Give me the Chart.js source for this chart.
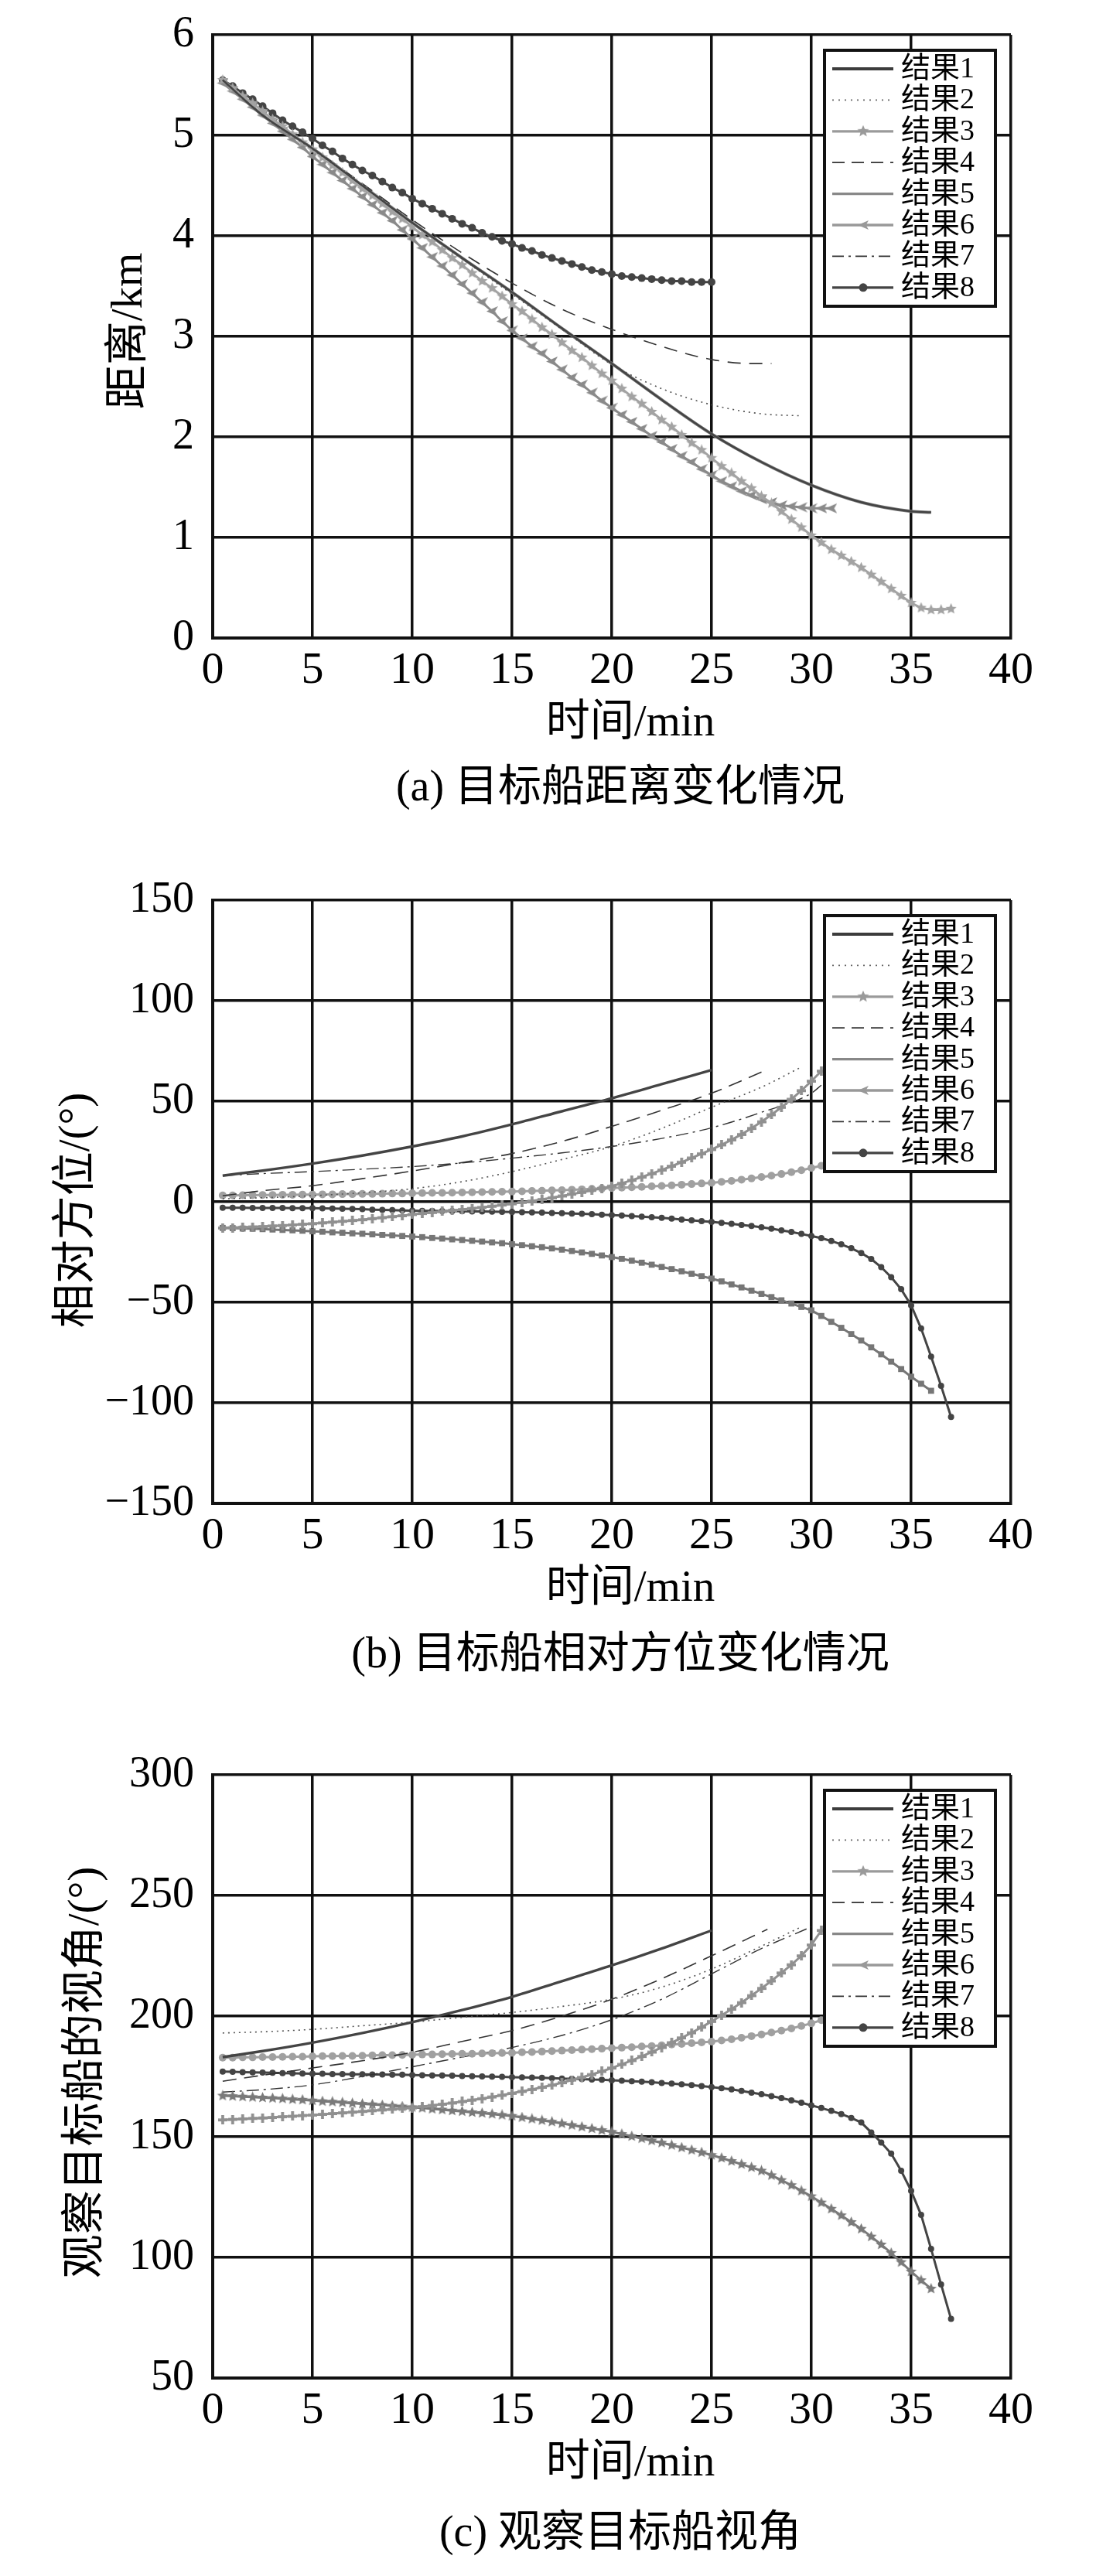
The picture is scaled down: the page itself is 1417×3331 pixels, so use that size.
<!DOCTYPE html>
<html>
<head>
<meta charset="utf-8">
<title>目标船距离、相对方位与视角变化</title>
<script src="https://cdn.jsdelivr.net/npm/chart.js@4"></script>
<style>
  body { margin: 0; background: #fff; }
  canvas { position: absolute; left: 0; }
</style>
</head>
<body>
<canvas id="chartA" width="1417" height="1081" style="top:0px"></canvas>
<canvas id="chartB" width="1417" height="1081" style="top:1119px"></canvas>
<canvas id="chartC" width="1417" height="1081" style="top:2250px"></canvas>

<script>
  // ---- time points (min) ----
  // marker series are sampled every 0.5 min
  const T_HALF = [0.5,1,1.5,2,2.5,3,3.5,4,4.5,5,5.5,6,6.5,7,7.5,8,8.5,9,9.5,10,
    10.5,11,11.5,12,12.5,13,13.5,14,14.5,15,15.5,16,16.5,17,17.5,18,18.5,19,19.5,20,
    20.5,21,21.5,22,22.5,23,23.5,24,24.5,25,25.5,26,26.5,27,27.5,28,28.5,29,29.5,30,
    30.5,31,31.5,32,32.5,33,33.5,34,34.5,35,35.5,36,36.5,37];
  // plain line series, read every 2.5 min
  const T_LINE = [0.5,2.5,5,7.5,10,12.5,15,17.5,20,22.5,25];
  const T_A1 = T_LINE.concat([27.5,30,32.5,35,36]);
  const T_A4 = T_LINE.concat([27,28]);
  const T_295 = T_LINE.concat([27.5,29.5]);
  const T_B4 = T_LINE.concat([27.5]);
  const T_B7 = T_LINE.concat([27.5,30,30.5]);
  const T_C4 = T_LINE.concat([27.8]);
  const T_C7 = T_LINE.concat([27.5,30]);

  // ---- (a) distance, km ----
  const A1_DIST = [5.55,5.2,4.87,4.5,4.13,3.78,3.44,3.08,2.73,2.37,2.03,1.75,1.52,1.35,1.26,1.25];
  const A2_DIST = [5.55,5.2,4.86,4.5,4.13,3.77,3.42,3.07,2.72,2.48,2.32,2.23,2.21];
  const A4_DIST = [5.55,5.2,4.87,4.52,4.16,3.83,3.53,3.27,3.07,2.9,2.77,2.73,2.73];
  const A3_DIST = [5.55,5.47,5.39,5.32,5.24,5.16,5.09,5.01,4.93,4.86,
    4.78,4.70,4.63,4.55,4.47,4.40,4.32,4.24,4.17,4.09,
    4.01,3.94,3.86,3.78,3.71,3.63,3.55,3.48,3.40,3.32,
    3.25,3.17,3.09,3.02,2.94,2.86,2.79,2.71,2.63,2.56,
    2.48,2.40,2.33,2.25,2.17,2.10,2.02,1.94,1.87,1.79,
    1.71,1.64,1.56,1.49,1.41,1.34,1.26,1.18,1.10,1.02,
    0.95,0.88,0.82,0.76,0.70,0.63,0.56,0.49,0.42,0.35,
    0.30,0.28,0.28,0.29];
  const A6_DIST = [5.52,5.44,5.36,5.28,5.20,5.12,5.04,4.96,4.88,4.79,
    4.71,4.63,4.55,4.47,4.39,4.31,4.23,4.15,4.06,3.97,
    3.88,3.79,3.70,3.61,3.52,3.43,3.34,3.25,3.15,3.06,
    2.98,2.90,2.83,2.75,2.67,2.59,2.52,2.44,2.36,2.29,
    2.22,2.15,2.08,2.01,1.95,1.88,1.81,1.75,1.68,1.62,
    1.56,1.51,1.46,1.42,1.38,1.35,1.32,1.31,1.30,1.29,
    1.29,1.29];
  const A8_DIST = [5.55,5.49,5.42,5.36,5.29,5.22,5.15,5.09,5.03,4.97,
    4.90,4.84,4.77,4.71,4.65,4.60,4.54,4.48,4.43,4.37,
    4.32,4.27,4.22,4.17,4.12,4.08,4.03,3.99,3.95,3.92,
    3.88,3.85,3.81,3.78,3.75,3.72,3.69,3.66,3.64,3.62,
    3.60,3.59,3.58,3.57,3.56,3.55,3.55,3.54,3.54,3.54];

  // ---- (b) relative bearing, deg ----
  const B1_BRG = [13,15.5,19,23,27.5,32.5,38.5,45,51.5,58.5,65.5];
  const B2_BRG = [1.5,2,3,4.5,6.5,10,15,21,27.5,36.5,47,57,67];
  const B4_BRG = [3,5.5,8,11.5,15.3,19.5,24,30,37.5,45.5,54,64.5];
  const B7_BRG = [13,14,15,16.2,17.5,19.3,21.7,24.3,27.5,31.5,36.8,44.5,54,58];
  const B3_BRG = [-13.0,-12.9,-12.7,-12.5,-12.3,-12.0,-11.8,-11.5,-11.2,-10.9,
    -10.5,-10.1,-9.7,-9.3,-8.9,-8.4,-7.9,-7.4,-6.9,-6.3,
    -5.8,-5.3,-4.8,-4.3,-3.8,-3.3,-2.8,-2.2,-1.6,-1.0,
    -0.3,0.4,1.2,2.0,2.9,3.8,4.7,5.7,6.7,7.8,
    9.2,10.7,12.3,14.0,15.8,17.7,19.7,21.8,23.9,26.0,
    28.3,30.8,33.5,36.5,39.8,43.3,47.0,51.0,55.3,60.0,
    65.0];
  const B6_BRG = [3.2,3.2,3.3,3.3,3.4,3.4,3.5,3.5,3.6,3.6,
    3.7,3.7,3.8,3.8,3.9,3.9,4.0,4.1,4.1,4.2,
    4.3,4.4,4.4,4.5,4.6,4.7,4.8,4.9,5.0,5.1,
    5.2,5.4,5.5,5.7,5.8,6.0,6.2,6.4,6.6,6.8,
    7.0,7.2,7.4,7.7,7.9,8.2,8.5,8.8,9.1,9.4,
    9.9,10.4,11.0,11.6,12.3,13.0,13.8,14.7,15.7,16.8,
    17.9,19.1];
  const B5_BRG = [-13.0,-13.1,-13.3,-13.4,-13.6,-13.8,-14.0,-14.2,-14.4,-14.7,
    -14.9,-15.2,-15.4,-15.7,-15.9,-16.2,-16.5,-16.7,-17.0,-17.3,
    -17.6,-18.0,-18.3,-18.7,-19.0,-19.4,-19.8,-20.2,-20.6,-21.1,
    -21.6,-22.1,-22.6,-23.2,-23.8,-24.5,-25.2,-25.9,-26.7,-27.5,
    -28.4,-29.3,-30.3,-31.3,-32.4,-33.5,-34.6,-35.8,-37.0,-38.2,
    -39.6,-41.1,-42.6,-44.2,-45.8,-47.4,-49.0,-50.6,-52.3,-54.0,
    -56.8,-59.7,-62.7,-65.8,-69.0,-72.4,-75.9,-79.5,-83.2,-87.0,
    -90.5,-94.0];
  const B8_BRG = [-3.0,-3.0,-3.0,-3.1,-3.1,-3.1,-3.1,-3.2,-3.2,-3.2,
    -3.3,-3.4,-3.5,-3.6,-3.7,-3.9,-4.0,-4.1,-4.3,-4.4,
    -4.5,-4.5,-4.6,-4.6,-4.7,-4.8,-4.8,-4.9,-5.0,-5.1,
    -5.2,-5.3,-5.4,-5.6,-5.7,-5.9,-6.0,-6.2,-6.4,-6.6,
    -6.8,-7.1,-7.4,-7.7,-8.0,-8.4,-8.8,-9.2,-9.6,-10.0,
    -10.5,-11.0,-11.5,-12.0,-12.7,-13.4,-14.2,-15.0,-16.0,-17.0,
    -18.1,-19.5,-21.2,-23.1,-25.5,-28.5,-32.5,-37.5,-43.5,-51.5,
    -63.0,-77.0,-91.5,-107.0];

  // ---- (c) view angle of target ship, deg ----
  const C1_VIEW = [183,185.5,189,193,197.5,202.5,208,214.5,221,228,235.5];
  const C2_VIEW = [193,193.5,194.5,196,197.5,199.5,201.5,204,207,212,219.5,229,237];
  const C4_VIEW = [173,175.5,178.5,181.5,185,189.5,194,200,207,215.5,225,236];
  const C7_VIEW = [168.5,169.5,171.5,175,179,183,187,192,198.5,207,217.5,228,237];
  const C3_VIEW = [157.0,157.2,157.4,157.6,157.8,158.0,158.3,158.5,158.8,159.0,
    159.3,159.6,159.9,160.2,160.5,160.8,161.1,161.4,161.7,162.0,
    162.5,163.0,163.5,164.0,164.6,165.2,165.8,166.5,167.2,168.0,
    168.8,169.6,170.5,171.4,172.4,173.5,174.6,175.8,177.1,178.5,
    180.0,181.6,183.3,185.1,187.0,189.0,191.0,193.1,195.4,197.8,
    200.3,202.9,205.6,208.5,211.5,214.6,217.9,221.3,225.0,229.5,
    235.5];
  const C6_VIEW = [182.8,182.8,182.9,182.9,183.0,183.0,183.1,183.2,183.2,183.3,
    183.4,183.4,183.5,183.5,183.6,183.7,183.8,183.8,183.9,184.0,
    184.1,184.1,184.2,184.3,184.4,184.4,184.5,184.6,184.7,184.8,
    185.0,185.1,185.3,185.5,185.7,185.9,186.1,186.3,186.5,186.7,
    186.9,187.1,187.4,187.6,187.9,188.2,188.5,188.8,189.1,189.4,
    189.9,190.4,191.0,191.7,192.4,193.2,194.0,194.9,195.9,197.0,
    198.3,199.7];
  const C5_VIEW = [167.0,166.8,166.6,166.4,166.2,166.0,165.8,165.5,165.3,165.0,
    164.7,164.5,164.2,163.9,163.6,163.4,163.1,162.8,162.5,162.2,
    161.9,161.5,161.2,160.8,160.5,160.1,159.8,159.4,159.0,158.6,
    158.0,157.4,156.8,156.2,155.5,154.8,154.1,153.4,152.7,152.0,
    151.1,150.2,149.3,148.4,147.5,146.5,145.5,144.5,143.5,142.4,
    141.2,139.9,138.6,137.3,135.9,134.0,132.0,129.9,127.6,125.3,
    122.7,120.1,117.4,114.6,111.8,108.6,105.3,101.8,98.0,94.1,
    90.5,87.0];
  const C8_VIEW = [177.0,176.9,176.8,176.7,176.6,176.5,176.4,176.3,176.2,176.1,
    176.1,176.0,176.0,175.9,175.9,175.8,175.8,175.7,175.7,175.6,
    175.5,175.4,175.4,175.3,175.2,175.1,175.0,174.9,174.8,174.7,
    174.6,174.5,174.4,174.3,174.1,174.0,173.9,173.7,173.6,173.4,
    173.2,173.0,172.8,172.6,172.3,172.0,171.7,171.4,171.0,170.6,
    170.1,169.6,169.0,168.3,167.6,166.8,166.0,165.1,164.1,163.0,
    161.9,160.7,159.4,157.8,155.9,151.8,147.6,143.0,135.9,127.6,
    117.6,103.5,88.8,74.5];

  const LABELS = ['结果1','结果2','结果3','结果4','结果5','结果6','结果7','结果8'];

  // ---- styles ----
  const SERIF = '"Liberation Serif", "Times New Roman", serif';
  const MIXED = '"Liberation Serif", "Noto Sans CJK SC", serif';
  const DARK = '#444444';

  // small marker bitmaps (star, left-pointing triangle, plus)
  function marker(kind, size, color) {
    const c = document.createElement('canvas');
    c.width = c.height = size;
    const g = c.getContext('2d');
    const r = size / 2;
    g.fillStyle = color;
    g.strokeStyle = color;
    if (kind === 'star') {
      g.beginPath();
      for (let i = 0; i < 10; i++) {
        const rr = i % 2 ? r * 0.45 : r;
        const a = -Math.PI / 2 + i * Math.PI / 5;
        g.lineTo(r + rr * Math.cos(a), r + rr * Math.sin(a));
      }
      g.closePath();
      g.fill();
    } else if (kind === 'left') {
      g.beginPath();
      g.moveTo(0, r);
      g.lineTo(size, 1);
      g.lineTo(size * 0.75, r);
      g.lineTo(size, size - 1);
      g.closePath();
      g.fill();
    } else if (kind === 'plus') {
      g.lineWidth = size / 3.2;
      g.beginPath();
      g.moveTo(r, 0); g.lineTo(r, size);
      g.moveTo(0, r); g.lineTo(size, r);
      g.stroke();
    }
    return c;
  }

  // legend look for the 8 results (same box in every panel)
  const LEGEND = [
    { color: '#3c3c3c', width: 4, dash: [] },
    { color: '#666666', width: 1.6, dash: [2, 6] },
    { color: '#9a9a9a', width: 3.3, dash: [], mark: marker('star', 16, '#9a9a9a') },
    { color: '#333333', width: 1.8, dash: [16, 9] },
    { color: '#888888', width: 3.3, dash: [] },
    { color: '#999999', width: 3.3, dash: [], mark: marker('left', 14, '#999999') },
    { color: '#333333', width: 1.6, dash: [15, 6, 3, 6] },
    { color: DARK, width: 3.3, dash: [], dot: true }
  ];

  function line(ts, vs, o) {
    return {
      data: vs.map((v, i) => ({ x: ts[i], y: v })),
      borderColor: o.color,
      borderWidth: o.width || 3,
      borderDash: o.dash || [],
      pointStyle: o.point || 'circle',
      pointRadius: o.point ? (o.radius || 5) : 0,
      pointBackgroundColor: o.color,
      pointBorderColor: o.color,
      pointBorderWidth: 0,
      cubicInterpolationMode: o.point ? 'default' : 'monotone',
      tension: 0,
      fill: false
    };
  }

  const boxLegend = {
    id: 'boxLegend',
    afterDatasetsDraw(chart) {
      const ctx = chart.ctx, a = chart.chartArea;
      const x0 = a.right - 241, y0 = a.top + 20, w = 221, h = 331;
      ctx.save();
      ctx.fillStyle = '#fff';
      ctx.fillRect(x0, y0, w, h);
      ctx.lineWidth = 4;
      ctx.strokeStyle = '#111';
      ctx.strokeRect(x0, y0, w, h);
      LEGEND.forEach((s, i) => {
        const y = y0 + 24 + i * 40.4;
        ctx.beginPath();
        ctx.setLineDash(s.dash);
        ctx.lineWidth = s.width;
        ctx.strokeStyle = s.color;
        ctx.moveTo(x0 + 10, y);
        ctx.lineTo(x0 + 89, y);
        ctx.stroke();
        ctx.setLineDash([]);
        if (s.mark) ctx.drawImage(s.mark, x0 + 50 - s.mark.width / 2, y - s.mark.height / 2);
        if (s.dot) {
          ctx.beginPath();
          ctx.fillStyle = s.color;
          ctx.arc(x0 + 50, y, 5.5, 0, Math.PI * 2);
          ctx.fill();
        }
        ctx.fillStyle = '#000';
        ctx.font = '38px ' + MIXED;
        ctx.textAlign = 'left';
        ctx.textBaseline = 'middle';
        ctx.fillText(LABELS[i], x0 + 99, y + 1);
      });
      ctx.restore();
    }
  };

  function axisText(p) {
    return {
      id: 'axisText',
      afterDraw(chart) {
        const ctx = chart.ctx;
        ctx.save();
        ctx.fillStyle = '#000';
        ctx.textAlign = 'center';
        ctx.textBaseline = 'middle';
        ctx.font = '57px ' + MIXED;
        ctx.fillText('时间/min', 815, 936);
        ctx.font = '56px ' + MIXED;
        ctx.fillText(p.caption, p.capX, p.capY);
        ctx.translate(p.yTitleX, p.yTitleY);
        ctx.rotate(-Math.PI / 2);
        ctx.font = '57px ' + MIXED;
        ctx.fillText(p.yTitle, 0, 0);
        ctx.restore();
      }
    };
  }

  function panel(id, p) {
    const grid = { color: '#111', lineWidth: 3.5, drawTicks: false };
    const border = { display: true, color: '#111', width: 4 };
    new Chart(document.getElementById(id), {
      type: 'line',
      data: {
        datasets: p.datasets.map((d, i) => Object.assign(d, { label: LABELS[i] }))
      },
      options: {
        responsive: false,
        animation: false,
        devicePixelRatio: 1,
        layout: { padding: { left: 0, right: 110, top: 45, bottom: 0 } },
        plugins: { legend: { display: false }, tooltip: { enabled: false } },
        scales: {
          x: {
            type: 'linear', min: 0, max: 40,
            ticks: { stepSize: 5, color: '#000', font: { family: SERIF, size: 58 }, padding: 8, maxRotation: 0 },
            grid: grid, border: border,
            afterFit: s => { s.height = 256; }
          },
          y: {
            min: p.yMin, max: p.yMax,
            ticks: {
              stepSize: p.yStep, color: '#000', padding: 24,
              // small line height so the top label does not push the plot down
              font: { family: SERIF, size: 56, lineHeight: 0.7 },
              callback: v => (v < 0 ? '\u2212' + Math.abs(v) : String(v))
            },
            grid: grid, border: border,
            afterFit: s => { s.width = 275; }
          }
        }
      },
      plugins: [boxLegend, axisText(p)]
    });
  }

  const triA = marker('left', 15, '#8a8a8a');
  const starA = marker('star', 15, '#a3a3a3');
  const plus = marker('plus', 12, '#909090');
  const starC = marker('star', 15, '#7a7a7a');

  panel('chartA', {
    yMin: 0, yMax: 6, yStep: 1,
    yTitle: '距离/km', yTitleX: 168, yTitleY: 428,
    caption: '(a) 目标船距离变化情况', capX: 802, capY: 1020,
    datasets: [
      line(T_A1, A1_DIST, { color: DARK, width: 2.5 }),
      line(T_295, A2_DIST, { color: '#555', width: 1.6, dash: [2, 5] }),
      line(T_HALF, A3_DIST, { color: '#a3a3a3', width: 3, point: starA }),
      line(T_A4, A4_DIST, { color: '#333', width: 1.6, dash: [17, 11] }),
      line(T_A1, A1_DIST, { color: '#7c7c7c', width: 4 }),
      line(T_HALF, A6_DIST, { color: '#8a8a8a', width: 3, point: triA }),
      line(T_HALF, A6_DIST, { color: '#333', width: 1.4, dash: [16, 6, 3, 6] }),
      line(T_HALF, A8_DIST, { color: DARK, width: 3, point: 'circle', radius: 5 })
    ]
  });

  panel('chartB', {
    yMin: -150, yMax: 150, yStep: 50,
    yTitle: '相对方位/(°)', yTitleX: 100, yTitleY: 446,
    caption: '(b) 目标船相对方位变化情况', capX: 802, capY: 1022,
    datasets: [
      line(T_LINE, B1_BRG, { color: DARK, width: 3.4 }),
      line(T_295, B2_BRG, { color: '#555', width: 1.6, dash: [2, 5] }),
      line(T_HALF, B3_BRG, { color: '#909090', width: 3, point: plus }),
      line(T_B4, B4_BRG, { color: '#333', width: 1.6, dash: [18, 10] }),
      line(T_HALF, B5_BRG, { color: '#767676', width: 3, point: 'rect', radius: 5.5 }),
      line(T_HALF, B6_BRG, { color: '#a0a0a0', width: 3, point: 'circle', radius: 5 }),
      line(T_B7, B7_BRG, { color: '#333', width: 1.4, dash: [16, 6, 3, 6] }),
      line(T_HALF, B8_BRG, { color: DARK, width: 3, point: 'circle', radius: 4 })
    ]
  });

  panel('chartC', {
    yMin: 50, yMax: 300, yStep: 50,
    yTitle: '观察目标船的视角/(°)', yTitleX: 112, yTitleY: 430,
    caption: '(c) 观察目标船视角', capX: 802, capY: 1027,
    datasets: [
      line(T_LINE, C1_VIEW, { color: DARK, width: 3.4 }),
      line(T_295, C2_VIEW, { color: '#555', width: 1.6, dash: [2, 5] }),
      line(T_HALF, C3_VIEW, { color: '#909090', width: 3, point: plus }),
      line(T_C4, C4_VIEW, { color: '#333', width: 1.6, dash: [18, 10] }),
      line(T_HALF, C5_VIEW, { color: '#7a7a7a', width: 3, point: starC }),
      line(T_HALF, C6_VIEW, { color: '#a0a0a0', width: 3, point: 'circle', radius: 5 }),
      line(T_C7, C7_VIEW, { color: '#333', width: 1.4, dash: [16, 6, 3, 6] }),
      line(T_HALF, C8_VIEW, { color: DARK, width: 3, point: 'circle', radius: 4 })
    ]
  });
</script>
</body>
</html>
